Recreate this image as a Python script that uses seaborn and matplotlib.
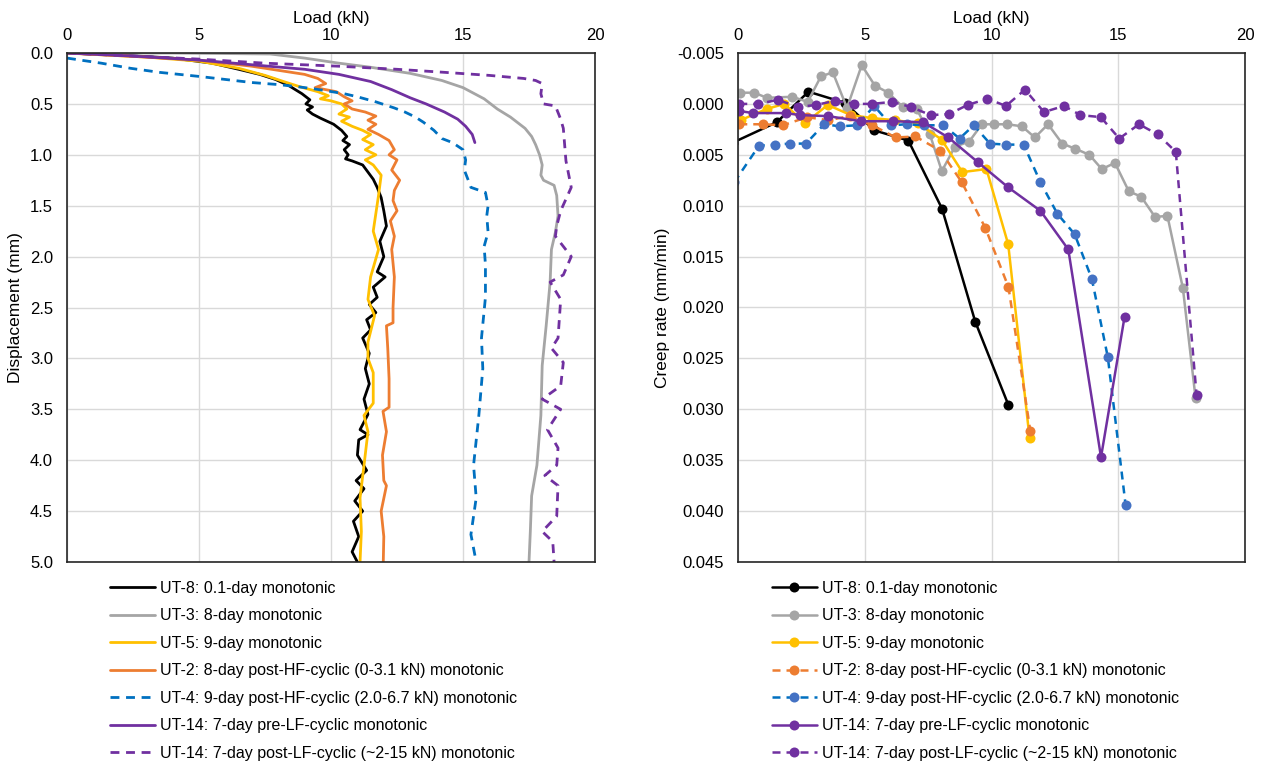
import numpy as np
import pandas as pd
import matplotlib
matplotlib.use("Agg")
import matplotlib.pyplot as plt
from matplotlib.ticker import FormatStrFormatter
import seaborn as sns

# ---------------- Left panel: load-displacement ----------------
ut8_load = [0, 2.0, 4.0, 5.5, 6.5, 7.3, 7.9, 8.4, 8.9, 9.2, 9.05, 9.3, 9.1, 9.3, 9.6, 10.1, 10.4, 10.6, 10.45,
            10.7, 10.5, 10.65, 10.55, 10.8, 11.2, 11.4, 11.6, 11.75, 11.9, 12.0, 12.1, 11.85, 12.0, 11.75, 12.05,
            11.6, 11.75, 11.45, 11.7, 11.35, 11.5, 11.2, 11.45, 11.3, 11.45, 11.25, 11.4, 11.1, 11.4, 11.05,
            11.0, 11.35, 10.95, 11.25, 10.9, 11.2, 10.85, 11.05, 10.8, 11.0]
ut8_disp = [0, 0.02, 0.05, 0.1, 0.16, 0.21, 0.26, 0.32, 0.4, 0.46, 0.5, 0.53, 0.56, 0.6, 0.64, 0.7, 0.76, 0.82,
            0.86, 0.9, 0.95, 1.0, 1.04, 1.06, 1.1, 1.17, 1.24, 1.32, 1.42, 1.55, 1.7, 1.85, 2.0, 2.15, 2.2, 2.3,
            2.4, 2.47, 2.55, 2.62, 2.72, 2.8, 2.95, 3.1, 3.25, 3.4, 3.55, 3.7, 3.75, 3.8, 3.95, 4.1, 4.2, 4.28,
            4.4, 4.5, 4.6, 4.75, 4.9, 5.0]

ut3_load = [0, 4.0, 7.7, 9.0, 10.3, 11.5, 13.0, 14.2, 15.0, 15.8, 16.3, 16.8, 17.35, 17.6, 17.75, 17.9, 18.0,
            17.95, 18.05, 18.45, 18.55, 18.6, 18.5, 18.35, 18.3, 18.15, 18.0, 17.95, 17.8, 17.6, 17.55, 17.5]
ut3_disp = [0, 0.0, 0.01, 0.05, 0.1, 0.14, 0.2, 0.27, 0.34, 0.45, 0.55, 0.63, 0.74, 0.82, 0.9, 1.0, 1.1, 1.2,
            1.25, 1.3, 1.4, 1.6, 1.76, 1.93, 2.25, 2.68, 3.07, 3.56, 4.05, 4.35, 4.7, 5.0]

ut5_load = [0, 3.0, 5.0, 6.5, 7.5, 8.2, 8.8, 9.5, 9.9, 9.6, 10.0, 10.4, 10.6, 10.3, 10.7, 10.4, 10.8, 11.2, 11.5,
            11.2, 11.6, 11.3, 11.7, 11.3, 11.6, 11.9, 11.8, 11.6, 11.8, 11.5, 11.4, 11.65, 11.4, 11.4, 11.6,
            11.6, 11.25, 11.4, 11.25, 11.1, 11.15, 11.1]
ut5_disp = [0, 0.04, 0.08, 0.15, 0.22, 0.28, 0.33, 0.38, 0.42, 0.45, 0.47, 0.5, 0.55, 0.6, 0.63, 0.67, 0.72,
            0.76, 0.8, 0.85, 0.9, 0.95, 1.0, 1.05, 1.1, 1.2, 1.4, 1.75, 1.93, 2.2, 2.42, 2.58, 2.84, 3.0, 3.14,
            3.44, 3.56, 3.72, 4.05, 4.37, 4.7, 5.0]

ut2_load = [0, 3.0, 5.0, 7.0, 8.0, 9.0, 9.5, 9.8, 9.4, 10.2, 10.5, 10.8, 10.5, 10.8, 11.3, 11.7, 11.4, 11.7,
            11.4, 11.8, 12.2, 12.4, 12.2, 12.5, 12.3, 12.6, 12.4, 12.35, 12.5, 12.25, 12.4, 12.3, 12.4, 12.35,
            12.35, 12.1, 12.15, 12.2, 12.2, 11.97, 12.1, 11.95, 12.0, 12.1, 11.9, 12.0, 11.98]
ut2_disp = [0, 0.04, 0.07, 0.13, 0.17, 0.21, 0.25, 0.3, 0.34, 0.38, 0.43, 0.47, 0.5, 0.55, 0.58, 0.62, 0.66,
            0.7, 0.75, 0.8, 0.86, 0.95, 1.0, 1.05, 1.15, 1.25, 1.35, 1.45, 1.55, 1.65, 1.8, 1.93, 2.2, 2.5, 2.65,
            2.68, 2.9, 3.2, 3.48, 3.52, 3.72, 3.95, 4.2, 4.25, 4.5, 4.75, 5.0]

ut4_load = [0, 1.3, 2.4, 3.5, 5.0, 6.0, 7.0, 8.0, 8.7, 9.3, 9.8, 10.5, 11.0, 11.7, 12.4, 12.8, 13.2, 13.5, 13.9,
            14.2, 14.6, 15.0, 15.1, 15.05, 15.2, 15.3, 15.85, 15.95, 15.9, 15.95, 15.8, 15.85, 15.85, 15.7,
            15.75, 15.6, 15.4, 15.5, 15.3, 15.5]
ut4_disp = [0.05, 0.1, 0.15, 0.19, 0.23, 0.26, 0.29, 0.31, 0.33, 0.35, 0.37, 0.4, 0.43, 0.48, 0.54, 0.58, 0.63,
            0.68, 0.76, 0.84, 0.88, 0.95, 1.05, 1.15, 1.25, 1.32, 1.37, 1.5, 1.6, 1.76, 1.9, 2.08, 2.4, 2.8, 3.1,
            3.56, 4.05, 4.37, 4.73, 5.0]

ut14pre_load = [0, 2.5, 5.0, 7.65, 9.0, 10.3, 11.5, 12.3, 13.0, 13.6, 14.3, 14.8, 15.1, 15.35, 15.45]
ut14pre_disp = [0, 0.03, 0.07, 0.13, 0.16, 0.21, 0.28, 0.36, 0.44, 0.5, 0.58, 0.65, 0.72, 0.8, 0.88]

ut14post_load = [0, 2.5, 5.0, 7.5, 10.3, 12.5, 14.3, 16.0, 17.3, 17.75, 18.0, 17.95, 18.05, 18.5, 18.7, 18.8,
                 18.9, 19.1, 18.7, 18.55, 18.5, 19.1, 18.8, 18.3, 18.7, 18.6, 18.35, 18.8, 18.7, 18.0, 18.7,
                 18.2, 18.6, 18.55, 18.1, 18.6, 18.55, 18.0, 18.4, 18.45]
ut14post_disp = [0, 0.03, 0.06, 0.1, 0.13, 0.16, 0.19, 0.22, 0.25, 0.27, 0.3, 0.4, 0.5, 0.52, 0.65, 0.74, 1.06,
                 1.32, 1.55, 1.7, 1.8, 2.0, 2.18, 2.25, 2.42, 2.8, 2.9, 3.04, 3.27, 3.4, 3.5, 3.7, 3.88, 4.05,
                 4.15, 4.25, 4.55, 4.7, 4.8, 5.0]

# ---------------- Right panel: load-creep rate ----------------
c_ut8_load = [-0.2, 1.53, 2.78, 4.22, 5.38, 6.72, 8.05, 9.36, 10.67]
c_ut8_rate = [0.0038, 0.0018, -0.0012, -0.0001, 0.0026, 0.0036, 0.0103, 0.0214, 0.0296]

c_ut3_load = [0.08, 0.64, 1.14, 2.14, 2.75, 3.27, 3.74, 4.3, 4.88, 5.4, 5.93, 6.5, 7.05, 7.57, 8.04, 8.56,
              9.12, 9.62, 10.1, 10.62, 11.2, 11.71, 12.23, 12.79, 13.3, 13.86, 14.35, 14.87, 15.42, 15.9,
              16.45, 16.94, 17.55, 18.05]
c_ut3_rate = [-0.0011, -0.0011, -0.0006, -0.0007, -0.0002, -0.0027, -0.0031, 0.0004, -0.0038, -0.0018,
              -0.0011, 0.0003, 0.0005, 0.003, 0.0066, 0.0042, 0.0037, 0.002, 0.002, 0.002, 0.0022, 0.0033,
              0.002, 0.0039, 0.0044, 0.005, 0.0064, 0.0058, 0.0086, 0.0091, 0.0111, 0.011, 0.0181, 0.0289]

c_ut5_load = [0.1, 1.13, 1.83, 2.64, 3.54, 4.45, 5.3, 6.2, 7.1, 8.03, 8.85, 9.8, 10.66, 11.5]
c_ut5_rate = [0.0016, 0.0005, 0.0, 0.0019, 0.0001, 0.0011, 0.0014, 0.0016, 0.0019, 0.0035, 0.0067, 0.0064,
              0.0138, 0.0328]

c_ut2_load = [0.05, 1.0, 1.78, 2.72, 3.56, 4.4, 5.3, 6.22, 7.0, 7.98, 8.83, 9.76, 10.67, 11.53]
c_ut2_rate = [0.002, 0.002, 0.0021, 0.0013, 0.0016, 0.0012, 0.0021, 0.0033, 0.0032, 0.0046, 0.0077, 0.0122,
              0.018, 0.0321]

c_ut4_load = [-0.15, 0.83, 1.46, 2.04, 2.68, 3.4, 4.01, 4.7, 5.37, 6.04, 6.66, 7.35, 8.1, 8.74, 9.3, 9.94,
              10.59, 11.27, 11.93, 12.6, 13.28, 13.96, 14.59, 15.29]
c_ut4_rate = [0.0077, 0.0041, 0.004, 0.0039, 0.0039, 0.002, 0.0022, 0.0021, 0.0002, 0.0021, 0.002, 0.0021,
              0.0021, 0.0034, 0.0021, 0.0039, 0.004, 0.004, 0.0077, 0.0108, 0.0128, 0.0172, 0.0249, 0.0394]

c_ut14pre_load = [0.05, 0.6, 1.88, 2.45, 3.55, 4.85, 6.12, 7.3, 8.3, 9.45, 10.66, 11.93, 13.03, 14.32, 15.25]
c_ut14pre_rate = [0.0007, 0.0009, 0.0009, 0.0011, 0.0012, 0.0017, 0.0017, 0.0018, 0.0033, 0.0057, 0.0082,
                  0.0105, 0.0143, 0.0347, 0.0209]

c_ut14post_load = [0.05, 0.8, 1.57, 2.37, 3.08, 3.82, 4.58, 5.3, 6.07, 6.82, 7.6, 8.33, 9.06, 9.84, 10.57,
                   11.32, 12.07, 12.86, 13.51, 14.31, 15.04, 15.82, 16.56, 17.27, 18.09]
c_ut14post_rate = [0.0, 0.0, -0.0004, 0.0003, 0.0001, -0.0003, 0.0, 0.0, -0.0002, 0.0003, 0.0011, 0.001,
                   0.0001, -0.0005, 0.0002, -0.0014, 0.0008, 0.0002, 0.0011, 0.0013, 0.0034, 0.002, 0.003,
                   0.0047, 0.0286]

labels = ["UT-8: 0.1-day monotonic",
          "UT-3: 8-day monotonic",
          "UT-5: 9-day monotonic",
          "UT-2: 8-day post-HF-cyclic (0-3.1 kN) monotonic",
          "UT-4: 9-day post-HF-cyclic (2.0-6.7 kN) monotonic",
          "UT-14: 7-day pre-LF-cyclic monotonic",
          "UT-14: 7-day post-LF-cyclic (~2-15 kN) monotonic"]

line_colors = ["#000000", "#A5A5A5", "#FFC000", "#ED7D31", "#0070C0", "#7030A0", "#7030A0"]
marker_colors = ["#000000", "#A5A5A5", "#FFC000", "#ED7D31", "#4472C4", "#7030A0", "#7030A0"]
solid = "-"
dashed = (0, (3.2, 2.4))
left_styles = [solid, solid, solid, solid, dashed, solid, dashed]
right_styles = [solid, solid, solid, dashed, dashed, solid, dashed]

left_series = [(ut8_load, ut8_disp), (ut3_load, ut3_disp), (ut5_load, ut5_disp), (ut2_load, ut2_disp),
               (ut4_load, ut4_disp), (ut14pre_load, ut14pre_disp), (ut14post_load, ut14post_disp)]
right_series = [(c_ut8_load, c_ut8_rate), (c_ut3_load, c_ut3_rate), (c_ut5_load, c_ut5_rate),
                (c_ut2_load, c_ut2_rate), (c_ut4_load, c_ut4_rate), (c_ut14pre_load, c_ut14pre_rate),
                (c_ut14post_load, c_ut14post_rate)]

# ---------------- Styling ----------------
sns.set_theme(style="whitegrid")
plt.rcParams['font.family'] = ['Liberation Sans', 'DejaVu Sans']
TICK_FS = 12
LABEL_FS = 12.5
LEG_FS = 11.5
plt.rcParams.update({
    "axes.edgecolor": "#262626",
    "axes.linewidth": 1.2,
    "grid.color": "#D9D9D9",
    "grid.linewidth": 1.0,
    "xtick.labelsize": TICK_FS,
    "ytick.labelsize": TICK_FS,
    "axes.labelsize": LABEL_FS,
    "text.color": "black",
    "xtick.color": "black",
    "ytick.color": "black",
    "axes.labelcolor": "black",
})

fig = plt.figure(figsize=(12.68, 7.66), dpi=100)
W, H = 1268, 766
axL = fig.add_axes([67 / W, 1 - 562 / H, (595 - 67) / W, (562 - 53) / H])
axR = fig.add_axes([738 / W, 1 - 562 / H, (1245 - 738) / W, (562 - 53) / H])

for i, (x, y) in enumerate(left_series):
    df = pd.DataFrame({"load": x, "disp": y})
    sns.lineplot(data=df, x="load", y="disp", sort=False, estimator=None, ax=axL,
                 color=line_colors[i], linewidth=2.0, linestyle=left_styles[i], label=labels[i])

for i, (x, y) in enumerate(right_series):
    df = pd.DataFrame({"load": x, "rate": y})
    sns.lineplot(data=df, x="load", y="rate", sort=False, estimator=None, ax=axR,
                 color=line_colors[i], linewidth=1.8, linestyle=right_styles[i], marker="o",
                 markersize=7.2, markerfacecolor=marker_colors[i], markeredgecolor=marker_colors[i],
                 markeredgewidth=0, label=labels[i])

# Left axes
axL.set_xlim(0, 20)
axL.set_ylim(5.0, 0.0)
axL.set_xticks(np.arange(0, 21, 5))
axL.set_yticks(np.arange(0, 5.01, 0.5))
axL.yaxis.set_major_formatter(FormatStrFormatter('%.1f'))
axL.set_xlabel("Load (kN)", labelpad=4)
axL.set_ylabel("Displacement (mm)", labelpad=5)

# Right axes
axR.set_xlim(0, 20)
axR.set_ylim(0.045, -0.005)
axR.set_xticks(np.arange(0, 21, 5))
axR.set_yticks(np.arange(-0.005, 0.0451, 0.005))
axR.yaxis.set_major_formatter(FormatStrFormatter('%.3f'))
axR.set_xlabel("Load (kN)", labelpad=4)
axR.set_ylabel("Creep rate (mm/min)", labelpad=5)

for ax in (axL, axR):
    ax.xaxis.tick_top()
    ax.xaxis.set_label_position('top')
    ax.tick_params(axis='x', length=0, pad=7)
    ax.tick_params(axis='y', length=0, pad=10)
    ax.grid(True, color="#D9D9D9", linewidth=1.0)
    for s in ax.spines.values():
        s.set_color("#262626")
        s.set_linewidth(1.2)

leg_kw = dict(loc="upper left", bbox_transform=fig.transFigure, frameon=False, fontsize=LEG_FS,
              handlelength=2.8, handletextpad=0.3, labelspacing=0.78, borderaxespad=0, borderpad=0)
legL = axL.legend(bbox_to_anchor=(110 / W, 1 - 581 / H), **leg_kw)
legR = axR.legend(bbox_to_anchor=(772 / W, 1 - 581 / H), **leg_kw)

fig.savefig("out.png", dpi=100)
